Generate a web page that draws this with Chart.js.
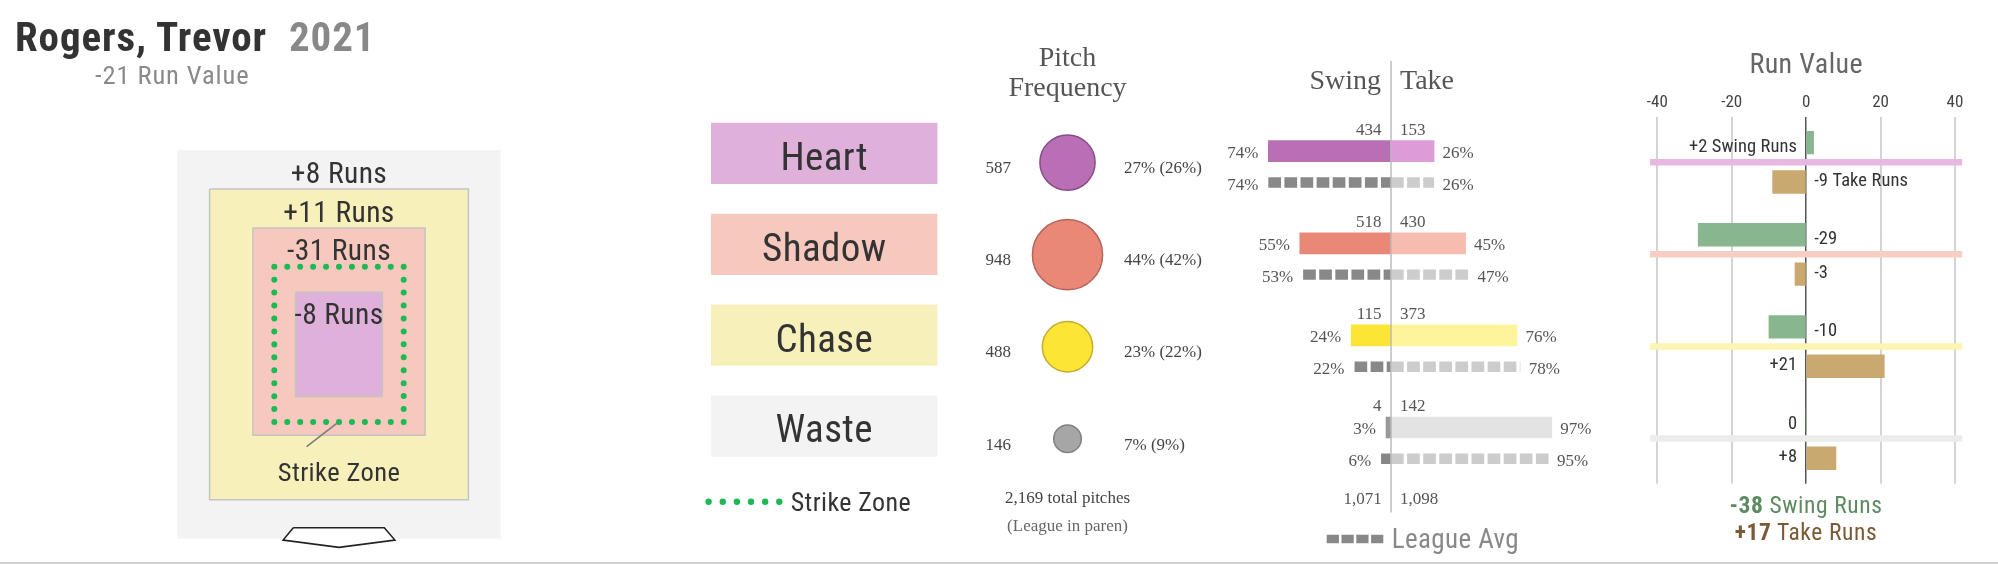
<!DOCTYPE html>
<html>
<head>
<meta charset="utf-8">
<script src="https://cdn.jsdelivr.net/npm/chart.js@4.4.1/dist/chart.umd.min.js"></script>
<style>
  html, body { margin: 0; padding: 0; background: #fff; }
  #wrap { position: relative; width: 1998px; height: 564px; overflow: hidden; background: #fff; }
  #wrap canvas { position: absolute; left: 0; top: 0; }
  .t { position: absolute; white-space: nowrap; line-height: 1; font-family: 'Roboto Condensed', Roboto, sans-serif; }
  #bottomLine { position: absolute; left: 0; top: 562px; width: 1998px; height: 2px; background: #cfcfcf; }
</style>
</head>
<body>
<div id="wrap">
  <canvas id="cZone" width="1998" height="564"></canvas>
  <canvas id="cBoxes" width="1998" height="564"></canvas>
  <canvas id="cFreq" width="1998" height="564"></canvas>
  <canvas id="cSwing" width="1998" height="564"></canvas>
  <canvas id="cRun" width="1998" height="564"></canvas>
  <div class="t" id="tName" style="left:15px;top:17px;font-size:41px;font-weight:700;color:#333;letter-spacing:0.9px"></div>
  <div class="t" id="tSeason" style="left:289px;top:17px;font-size:41px;font-weight:700;color:#888;letter-spacing:0.9px"></div>
  <div class="t" id="tRV" style="left:95px;top:62px;font-size:26.5px;color:#8a8a8a;letter-spacing:0.9px"></div>
  <div class="t" id="tSwingTot" style="left:1706px;width:200px;text-align:center;top:494px;font-size:23.5px;color:#5d8a60;letter-spacing:0.6px"></div>
  <div class="t" id="tTakeTot" style="left:1706px;width:200px;text-align:center;top:521px;font-size:23.5px;color:#7a5a35;letter-spacing:0.6px"></div>
  <div id="bottomLine"></div>
</div>
<script>
// ---------------- DATA ----------------
const zones = ['Heart', 'Shadow', 'Chase', 'Waste'];
const zoneRuns = [-8, -31, 11, 8];
const pitchCounts = [587, 948, 488, 146];
const pitchPct = [27, 44, 23, 7];
const leaguePitchPct = [26, 42, 22, 9];
const totalPitches = '2,169';
const swingCounts = [434, 518, 115, 4];
const takeCounts = [153, 430, 373, 142];
const swingPct = [74, 55, 24, 3];
const takePct = [26, 45, 76, 97];
const leagueSwingPct = [74, 53, 22, 6];
const leagueTakePct = [26, 47, 78, 95];
const totalSwings = '1,071';
const totalTakes = '1,098';
const swingRuns = [2, -29, -10, 0];
const takeRuns = [-9, -3, 21, 8];
const runTicks = [-40, -20, 0, 20, 40];
const totalSwingRuns = -38;
const totalTakeRuns = 17;
const playerName = 'Rogers, Trevor';
const season = '2021';
const runValue = -21;

// ---------------- STYLE ----------------
const W = 1998, H = 564;
const SANS = "'Roboto Condensed', Roboto, sans-serif";
const SERIF = "'Liberation Serif', 'Times New Roman', serif";
const GREEN = '#1db954';
const zoneFill = ['#dfb1da', '#f7c8bd', '#f7f0bb', '#f3f3f3'];
const bubbleFill = ['#b86fb4', '#ea8878', '#fde535', '#a6a6a6'];
const bubbleLine = ['#8c4c8a', '#b5645a', '#c5ad2c', '#808080'];
const swingFill = ['#b86fb4', '#ea8878', '#fde535', '#999999'];
const takeFill = ['#dd9bd8', '#f6bcaf', '#fef49b', '#e3e3e3'];
const sepColor = ['#e7b9e2', '#f8cdc4', '#fdf5b3', '#ececec'];

// strike-zone diagram geometry (units = half strike zone)
const SZ = {
  boxes: [[-0.67, 0.67, -0.67, 0.67], [-1.33, 1.33, -1.17, 1.5], [-2, 2, -2, 2], [-2.5, 2.5, -2.5, 2.5]],
  zone: [-1, 1, -1, 1],
  labelY: [0.393, 1.215, 1.708, 2.217],
  plate: [[-0.706, -2.361], [0.70, -2.361], [0.864, -2.52], [0, -2.614], [-0.864, -2.52], [-0.706, -2.361]],
  leader: [[-0.5, -1.318], [0, -0.996]],
  szLabelY: -1.634
};

const fmtS = v => (v > 0 ? '+' : '') + v;
function padFor(x0, x1, y0, y1) { return { left: x0, right: W - x1, top: y0, bottom: H - y1 }; }
function rectPts(b) {
  return [{x: b[0], y: b[3]}, {x: b[1], y: b[3]}, {x: b[1], y: b[2]}, {x: b[0], y: b[2]}, {x: b[0], y: b[3]}];
}
function drawText(ctx, s, x, yc, o) {
  const size = o.size, fam = o.family || SANS;
  ctx.save();
  ctx.font = (o.weight || 400) + ' ' + size + 'px ' + fam;
  ctx.fillStyle = o.color || '#333';
  ctx.textAlign = o.align || 'left';
  ctx.textBaseline = 'alphabetic';
  if ('letterSpacing' in ctx) ctx.letterSpacing = (fam === SANS ? (o.ls != null ? o.ls : 0.4) : 0) + 'px';
  const k = fam === SERIF ? 0.335 : 0.355;
  ctx.fillText(s, x, yc + k * size);
  ctx.restore();
}
function lin(min, max, extra) {
  return Object.assign({ type: 'linear', min, max, offset: false, grid: { offset: false }, display: false }, extra || {});
}
function baseOpts(padding, scales) {
  return {
    responsive: false, animation: false, events: [],
    layout: { padding },
    scales,
    plugins: { legend: { display: false }, tooltip: { enabled: false } }
  };
}
const lineDS = (pts, o) => Object.assign({ type: 'scatter', data: pts, showLine: true, pointRadius: 0, fill: false, borderCapStyle: 'butt' }, o);

// ---------------- HTML TEXT ----------------
document.getElementById('tName').textContent = playerName;
document.getElementById('tSeason').textContent = season;
document.getElementById('tRV').textContent = runValue + ' Run Value';
document.getElementById('tSwingTot').innerHTML = '<b>' + fmtS(totalSwingRuns) + '</b> Swing Runs';
document.getElementById('tTakeTot').innerHTML = '<b>' + fmtS(totalTakeRuns) + '</b> Take Runs';

// ---------------- A: strike zone diagram ----------------
new Chart(document.getElementById('cZone'), {
  type: 'scatter',
  data: { datasets: [
    lineDS(rectPts(SZ.zone), { borderColor: GREEN, borderWidth: 6, borderDash: [0.01, 12.93], borderCapStyle: 'round' }),
    lineDS(SZ.leader.map(p => ({x: p[0], y: p[1]})), { borderColor: '#7a7a7a', borderWidth: 1.5 }),
    lineDS(SZ.plate.map(p => ({x: p[0], y: p[1]})), { borderColor: '#222', borderWidth: 1.6, backgroundColor: '#ffffff', fill: 'shape' }),
    ...zones.map((z, i) => lineDS(rectPts(SZ.boxes[i]), {
      borderColor: i === 3 ? 'rgba(0,0,0,0)' : '#c4c4c4', borderWidth: 1.5,
      backgroundColor: zoneFill[i], fill: 'shape'
    }))
  ]},
  options: baseOpts(padFor(144.9, 533.1, 111.4, 561.77), {
    x: lin(-3, 3),
    y: lin(-2.8, 3)
  }),
  plugins: [{ id: 'zoneText', afterDatasetsDraw(chart) {
    const { ctx } = chart, xs = chart.scales.x, ys = chart.scales.y;
    zones.forEach((z, i) => drawText(ctx, fmtS(zoneRuns[i]) + ' Runs', xs.getPixelForValue(0), ys.getPixelForValue(SZ.labelY[i]), { size: 29.5, align: 'center', color: '#333' }));
    drawText(ctx, 'Strike Zone', xs.getPixelForValue(0), ys.getPixelForValue(SZ.szLabelY), { size: 26.5, align: 'center', color: '#333' });
  }}]
});

// ---------------- B: zone name boxes ----------------
const LEG_ROW = 3.833;
new Chart(document.getElementById('cBoxes'), {
  type: 'bar',
  data: { datasets: [
    lineDS([{x: -0.0106, y: LEG_ROW}, {x: 0.3016, y: LEG_ROW}], { borderColor: GREEN, borderWidth: 6.4, borderDash: [0.01, 14.13], borderCapStyle: 'round', clip: false }),
    { type: 'bar', indexAxis: 'y', data: zones.map((z, i) => ({x: [0, 1], y: i})), backgroundColor: zoneFill, barThickness: 60.6, grouped: false, borderWidth: 0 }
  ]},
  options: baseOpts(padFor(711, 937.5, 107.95, 535.18), {
    x: lin(0, 1),
    y: lin(-0.5, 4.2, { reverse: true })
  }),
  plugins: [{ id: 'boxText', afterDatasetsDraw(chart) {
    const { ctx } = chart, xs = chart.scales.x, ys = chart.scales.y;
    zones.forEach((z, i) => drawText(ctx, z, xs.getPixelForValue(0.5), ys.getPixelForValue(i) + 2.5, { size: 39, align: 'center', color: '#333' }));
    drawText(ctx, 'Strike Zone', xs.getPixelForValue(0.352), ys.getPixelForValue(LEG_ROW), { size: 26, color: '#333' });
  }}]
});

// ---------------- C: pitch frequency bubbles ----------------
const BUBBLE_K = 1.14; // radius px per sqrt(pitch)
new Chart(document.getElementById('cFreq'), {
  type: 'bubble',
  data: { datasets: [{
    data: pitchCounts.map((c, i) => ({ x: 0, y: i, r: BUBBLE_K * Math.sqrt(c) })),
    backgroundColor: bubbleFill, borderColor: bubbleLine, borderWidth: 1.5, clip: false
  }]},
  options: baseOpts(padFor(967.5, 1167.5, 107.36, 494.05), {
    x: lin(-1, 1),
    y: lin(-0.6, 3.6, { reverse: true })
  }),
  plugins: [{ id: 'freqText', afterDatasetsDraw(chart) {
    const { ctx } = chart, xs = chart.scales.x, ys = chart.scales.y;
    const cx = xs.getPixelForValue(0);
    drawText(ctx, 'Pitch', cx, 56.7, { size: 28, family: SERIF, align: 'center', color: '#555' });
    drawText(ctx, 'Frequency', cx, 86.9, { size: 28, family: SERIF, align: 'center', color: '#555' });
    zones.forEach((z, i) => {
      const y = ys.getPixelForValue(i) + 5;
      drawText(ctx, String(pitchCounts[i]), cx - 56.5, y, { size: 17, family: SERIF, align: 'right', color: '#444' });
      drawText(ctx, pitchPct[i] + '% (' + leaguePitchPct[i] + '%)', cx + 56.5, y, { size: 17, family: SERIF, color: '#444' });
    });
    drawText(ctx, totalPitches + ' total pitches', cx, 497, { size: 17, family: SERIF, align: 'center', color: '#444' });
    drawText(ctx, '(League in paren)', cx, 525, { size: 17, family: SERIF, align: 'center', color: '#666' });
  }}]
});

// ---------------- D: swing / take ----------------
const LEAGUE_OFF = 0.34;
const leagueDash = { borderWidth: 10.4, borderDash: [12.7, 3.4] };
new Chart(document.getElementById('cSwing'), {
  type: 'bar',
  data: { datasets: [
    lineDS([{x: 0, y: -0.979}, {x: 0, y: 3.924}], { borderColor: '#bdbdbd', borderWidth: 1.5, clip: false }),
    ...zones.map((z, i) => lineDS([{x: -leagueSwingPct[i], y: i + LEAGUE_OFF}, {x: 0, y: i + LEAGUE_OFF}], Object.assign({ borderColor: '#888888' }, leagueDash))),
    ...zones.map((z, i) => lineDS([{x: 0, y: i + LEAGUE_OFF}, {x: leagueTakePct[i], y: i + LEAGUE_OFF}], Object.assign({ borderColor: '#cccccc' }, leagueDash))),
    { type: 'bar', indexAxis: 'y', data: swingPct.map((v, i) => ({x: -v, y: i})), backgroundColor: swingFill, barThickness: 21, grouped: false, borderWidth: 0 },
    { type: 'bar', indexAxis: 'y', data: takePct.map((v, i) => ({x: v, y: i})), backgroundColor: takeFill, barThickness: 21, grouped: false, borderWidth: 0 }
  ]},
  options: baseOpts(padFor(1225.2, 1556.8, 59.1, 519.6), {
    x: lin(-100, 100),
    y: lin(-1, 4, { reverse: true })
  }),
  plugins: [{ id: 'swingText', afterDatasetsDraw(chart) {
    const { ctx } = chart, xs = chart.scales.x, ys = chart.scales.y;
    const cx = xs.getPixelForValue(0);
    const F = { size: 17, family: SERIF, color: '#555' };
    drawText(ctx, 'Swing', cx - 10, 80, Object.assign({}, F, { size: 28, align: 'right' }));
    drawText(ctx, 'Take', cx + 9, 80, Object.assign({}, F, { size: 28 }));
    zones.forEach((z, i) => {
      const yb = ys.getPixelForValue(i), yl = ys.getPixelForValue(i + LEAGUE_OFF);
      drawText(ctx, String(swingCounts[i]), cx - 9.5, yb - 21.7, Object.assign({}, F, { align: 'right' }));
      drawText(ctx, String(takeCounts[i]), cx + 9, yb - 21.7, F);
      drawText(ctx, swingPct[i] + '%', xs.getPixelForValue(-swingPct[i]) - 10, yb + 1.3, Object.assign({}, F, { align: 'right' }));
      drawText(ctx, takePct[i] + '%', xs.getPixelForValue(takePct[i]) + 8.5, yb + 1.3, F);
      drawText(ctx, leagueSwingPct[i] + '%', xs.getPixelForValue(-leagueSwingPct[i]) - 10, yl + 1.3, Object.assign({}, F, { align: 'right' }));
      drawText(ctx, leagueTakePct[i] + '%', xs.getPixelForValue(leagueTakePct[i]) + 8.5, yl + 1.3, F);
    });
    drawText(ctx, totalSwings, cx - 9.3, 498.7, Object.assign({}, F, { align: 'right' }));
    drawText(ctx, totalTakes, cx + 9, 498.7, F);
    // legend
    ctx.save();
    ctx.strokeStyle = '#888'; ctx.lineWidth = 8.5; ctx.setLineDash([12.2, 2.6]);
    ctx.beginPath(); ctx.moveTo(1326.7, 539); ctx.lineTo(1383.3, 539); ctx.stroke();
    ctx.restore();
    drawText(ctx, 'League Avg', 1391.7, 538.8, { size: 27, color: '#888' });
  }}]
});

// ---------------- E: run value ----------------
const SWING_OFF = -0.212, TAKE_OFF = 0.215;
new Chart(document.getElementById('cRun'), {
  type: 'bar',
  data: { datasets: [
    { type: 'bar', indexAxis: 'y', data: swingRuns.map((v, i) => ({x: v, y: i + SWING_OFF})), backgroundColor: '#88b68f', barThickness: 22.7, grouped: false, borderWidth: 0 },
    { type: 'bar', indexAxis: 'y', data: takeRuns.map((v, i) => ({x: v, y: i + TAKE_OFF})), backgroundColor: '#c9a970', barThickness: 22.7, grouped: false, borderWidth: 0 },
    ...zones.map((z, i) => lineDS([{x: -42, y: i}, {x: 42, y: i}], { borderColor: sepColor[i], borderWidth: 6.5 }))
  ]},
  options: baseOpts(padFor(1649.85, 1962.45, 93, 483.8), {
    x: lin(-42, 42, {
      display: true, position: 'top',
      afterBuildTicks: s => { s.ticks = runTicks.map(v => ({ value: v })); },
      afterFit: s => { s.height = 24; },
      ticks: { padding: 3.6, color: '#444', font: { family: SANS, size: 17 } },
      grid: {
        offset: false, drawTicks: false,
        color: c => (c.tick && c.tick.value === 0) ? '#555' : '#d4d4d4',
        lineWidth: c => (c.tick && c.tick.value === 0) ? 1.5 : 2
      },
      border: { display: false }
    }),
    y: lin(-0.491, 3.492, { reverse: true })
  }),
  plugins: [{ id: 'runText', afterDatasetsDraw(chart) {
    const { ctx } = chart, xs = chart.scales.x, ys = chart.scales.y;
    const cx = xs.getPixelForValue(0);
    drawText(ctx, 'Run Value', cx, 63.1, { size: 28, align: 'center', color: '#666' });
    const lab = (v, suffix, yc) => {
      const s = fmtS(v) + suffix;
      if (v >= 0) drawText(ctx, s, cx - 9, yc, { size: 18.5, ls: 0.1, align: 'right', color: '#333' });
      else drawText(ctx, s, cx + 8, yc, { size: 18.5, ls: 0.1, color: '#333' });
    };
    zones.forEach((z, i) => {
      lab(swingRuns[i], i === 0 ? ' Swing Runs' : '', ys.getPixelForValue(i + SWING_OFF) + 3);
      lab(takeRuns[i], i === 0 ? ' Take Runs' : '', ys.getPixelForValue(i + TAKE_OFF) - 2.5);
    });
  }}]
});
</script>
</body>
</html>
